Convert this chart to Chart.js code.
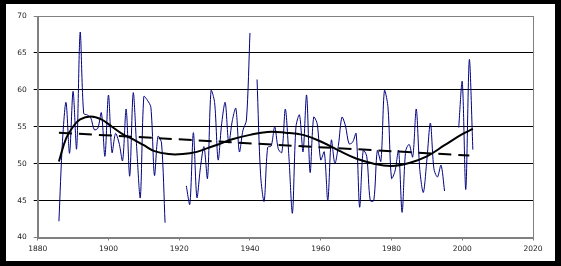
<!DOCTYPE html>
<html>
<head>
<meta charset="utf-8">
<script src="https://cdn.jsdelivr.net/npm/chart.js@4"></script>
<style>
  html, body { margin: 0; padding: 0; background: #000; }
  #box { position: absolute; left: 6px; top: 4px; width: 549px; height: 257px; background: #fff; }
</style>
</head>
<body>
<div id="box"><canvas id="chart"></canvas></div>
<script>
// annual values, 1886-2003 (null = missing year)
const firstYear = 1886;
const annual = [
  42.2, 53.0, 58.3, 51.4, 59.8, 52.0, 67.8, 56.8, 56.6, 56.2,   // 1886-1895
  54.6, 54.8, 56.9, 51.0, 59.3, 51.5, 54.1, 52.8, 50.4, 57.4,   // 1896-1905
  48.3, 59.6, 52.0, 45.4, 59.1, 58.6, 57.6, 48.4, 53.7, 52.8,   // 1906-1915
  42.0, null, null, null, null, null, 47.0, 44.5, 54.2, 45.4,   // 1916-1925
  49.5, 52.3, 48.0, 59.9, 58.3, 50.5, 55.4, 58.3, 52.8, 55.8,   // 1926-1935
  57.5, 51.6, 54.5, 55.9, 67.7, null, 61.4, 48.5, 44.9, 52.2,   // 1936-1945
  52.4, 55.0, 52.0, 51.5, 57.4, 51.0, 43.3, 55.0, 56.6, 51.6,   // 1946-1955
  59.3, 48.8, 56.3, 55.4, 50.5, 51.6, 45.0, 53.2, 50.0, 52.5,   // 1956-1965
  56.3, 55.1, 52.7, 52.9, 54.1, 44.1, 51.8, 51.0, 45.0, 45.0,   // 1966-1975
  51.8, 50.3, 59.9, 57.7, 48.0, 49.0, 51.8, 43.4, 51.7, 52.6,   // 1976-1985
  50.9, 57.4, 49.2, 46.1, 50.5, 55.5, 49.3, 48.2, 49.8, 46.3,   // 1986-1995
  null, null, null, 54.9, 61.1, 46.5, 64.1, 51.9                // 1996-2003
];

// smooth trend curve, read at these years
const trendYears = [1886, 1888, 1890, 1892, 1895, 1898, 1901, 1904, 1907, 1910, 1913, 1917, 1921, 1925, 1928, 1931, 1935, 1940, 1945, 1950, 1955, 1960, 1965, 1970, 1975, 1980, 1985, 1990, 1995, 2000, 2003];
const trendValues = [50.3, 53.4, 55.0, 56.0, 56.4, 56.0, 55.0, 54.0, 53.3, 52.5, 51.7, 51.3, 51.3, 51.6, 52.1, 52.6, 53.3, 53.9, 54.3, 54.2, 53.9, 53.0, 51.8, 50.7, 50.0, 49.7, 50.1, 51.0, 52.5, 54.0, 54.7];

// straight dashed trend, end points
const linearYears = [1886, 2002];
const linearValues = [54.2, 51.1];

const xTicks = [1880, 1900, 1920, 1940, 1960, 1980, 2000, 2020];
const yTicks = [40, 45, 50, 55, 60, 65, 70];

const annualPoints = annual.map((v, i) => ({ x: firstYear + i, y: v }));
const trendPoints = trendYears.map((y, i) => ({ x: y, y: trendValues[i] }));
const linearPoints = linearYears.map((y, i) => ({ x: y, y: linearValues[i] }));

const frame = {
  id: 'frame',
  beforeDatasetsDraw(chart) {
    const a = chart.chartArea;
    const c = chart.ctx;
    c.save();
    c.strokeStyle = '#808080';
    c.lineWidth = 1;
    c.strokeRect(Math.round(a.left) + 0.5, Math.round(a.top) + 0.5, Math.round(a.right - a.left), Math.round(a.bottom - a.top));
    c.restore();
  }
};

const tickFont = { family: 'DejaVu Sans', size: 7.5 };

new Chart(document.getElementById('chart').getContext('2d'), {
  type: 'line',
  data: {
    datasets: [
      {
        data: trendPoints,
        borderColor: '#000',
        borderWidth: 2,
        pointRadius: 0,
        tension: 0.4,
        order: 1
      },
      {
        data: linearPoints,
        borderColor: '#000',
        borderWidth: 2,
        borderDash: [13, 7],
        pointRadius: 0,
        order: 2
      },
      {
        data: annualPoints,
        borderColor: '#000080',
        borderWidth: 1,
        pointRadius: 0,
        tension: 0.3,
        spanGaps: false,
        order: 3
      }
    ]
  },
  options: {
    responsive: true,
    maintainAspectRatio: false,
    animation: false,
    layout: { padding: { left: 0, right: 22, top: 12, bottom: 0 } },
    plugins: {
      legend: { display: false },
      tooltip: { enabled: false }
    },
    scales: {
      x: {
        type: 'linear',
        min: 1880,
        max: 2020,
        afterBuildTicks: (s) => { s.ticks = xTicks.map(v => ({ value: v })); },
        afterFit: (s) => { s.height = 23.5; },
        ticks: {
          callback: (v) => String(v),
          font: tickFont,
          color: '#222',
          padding: 4,
          maxRotation: 0
        },
        grid: {
          drawOnChartArea: false,
          drawTicks: true,
          tickLength: 3,
          color: '#808080'
        },
        border: { display: true, color: '#808080' }
      },
      y: {
        min: 40,
        max: 70,
        afterBuildTicks: (s) => { s.ticks = yTicks.map(v => ({ value: v })); },
        afterFit: (s) => { s.width = 31.7; },
        ticks: {
          font: tickFont,
          color: '#222',
          padding: 7
        },
        grid: {
          tickLength: 4,
          color: (ctx) => (ctx.tick && (ctx.tick.value === 70 || ctx.tick.value === 40)) ? '#808080' : '#000'
        },
        border: { display: true, color: '#808080' }
      }
    }
  },
  plugins: [frame]
});
</script>
</body>
</html>
